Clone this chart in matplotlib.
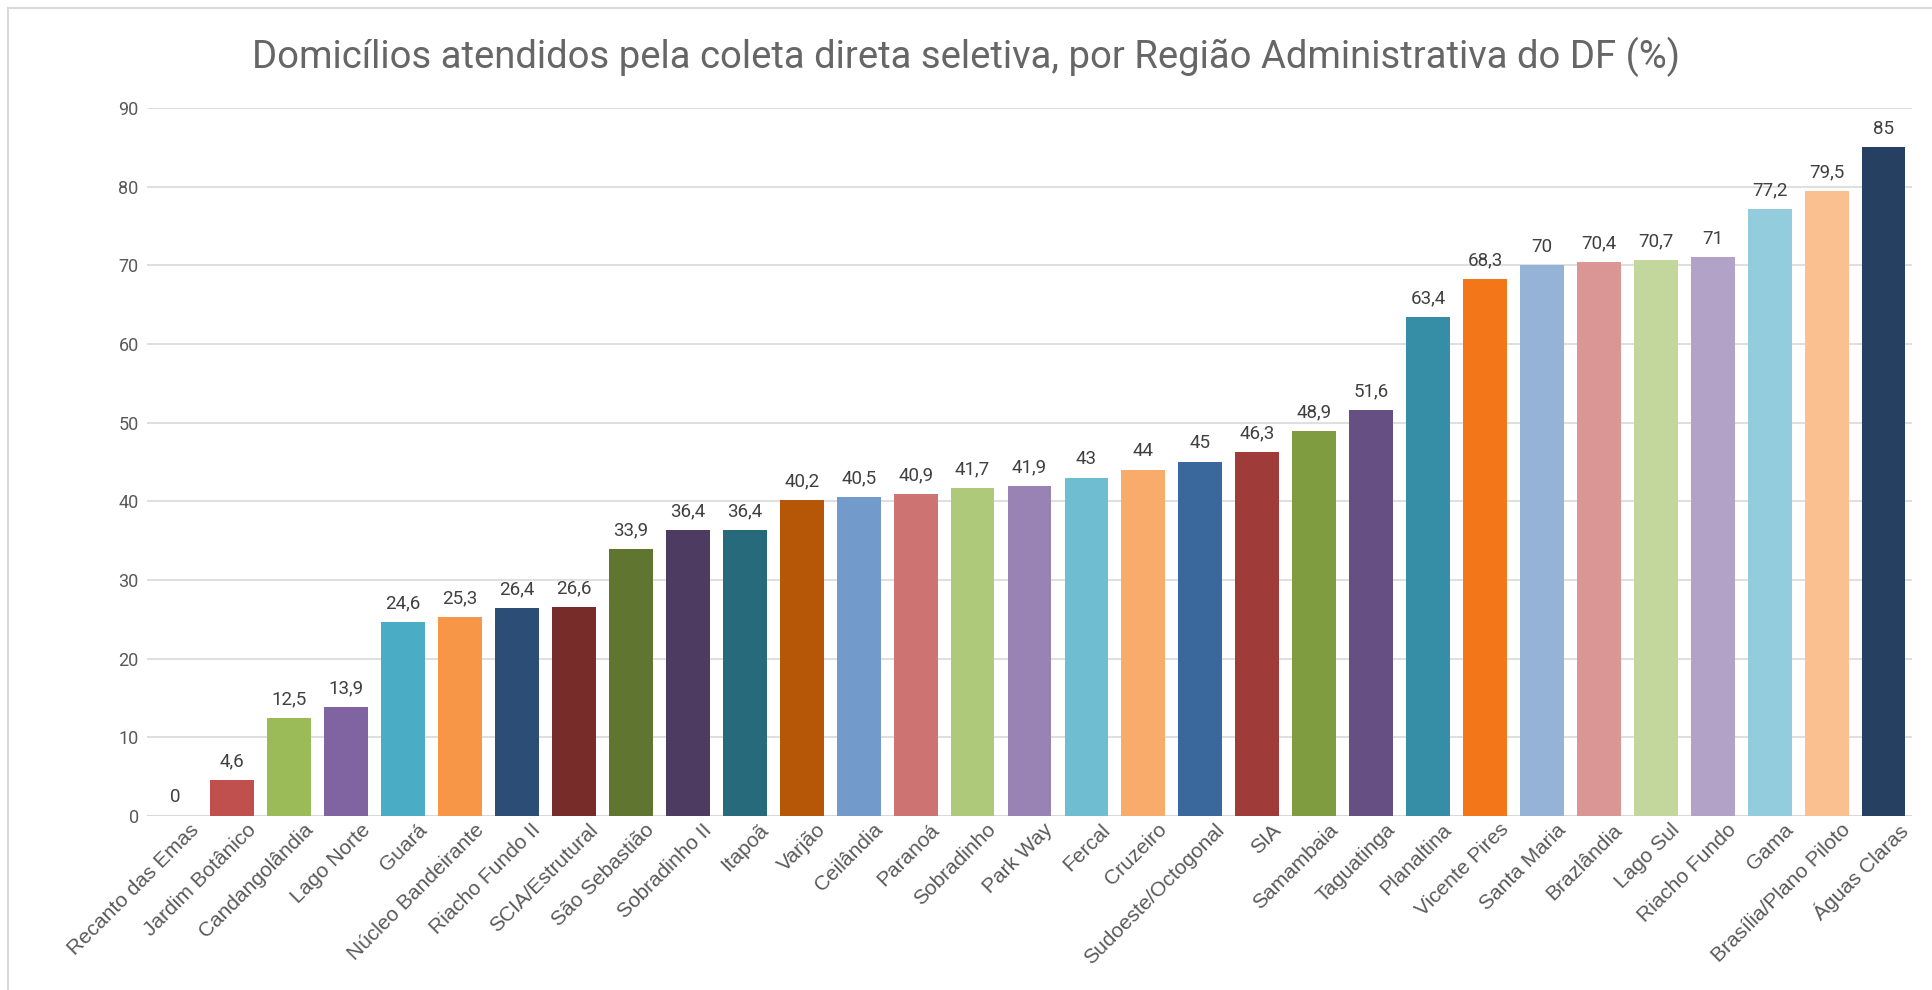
import matplotlib
matplotlib.use("Agg")
import matplotlib.pyplot as plt
import matplotlib.transforms as mtransforms
from matplotlib.lines import Line2D

# Regions ordered by share of households served by selective collection
regions = [
    "Recanto das Emas", "Jardim Botânico", "Candangolândia", "Lago Norte", "Guará",
    "Núcleo Bandeirante", "Riacho Fundo II", "SCIA/Estrutural", "São Sebastião",
    "Sobradinho II", "Itapoã", "Varjão", "Ceilândia", "Paranoá", "Sobradinho",
    "Park Way", "Fercal", "Cruzeiro", "Sudoeste/Octogonal", "SIA", "Samambaia",
    "Taguatinga", "Planaltina", "Vicente Pires", "Santa Maria", "Brazlândia",
    "Lago Sul", "Riacho Fundo", "Gama", "Brasília/Plano Piloto", "Águas Claras",
]
percent = [
    0, 4.6, 12.5, 13.9, 24.6, 25.3, 26.4, 26.6, 33.9, 36.4, 36.4, 40.2, 40.5,
    40.9, 41.7, 41.9, 43, 44, 45, 46.3, 48.9, 51.6, 63.4, 68.3, 70, 70.4, 70.7,
    71, 77.2, 79.5, 85,
]
yticks = [0, 10, 20, 30, 40, 50, 60, 70, 80, 90]

# Office-theme colour cycle with its shaded variations
bar_colors = [
    "#4F81BD", "#C0504D", "#9BBB59", "#8064A2", "#4BACC6", "#F79646",
    "#2C4D75", "#772C2A", "#5F7530", "#4D3B62", "#276A7C", "#B65708",
    "#729ACA", "#CD7371", "#AFC97A", "#9983B5", "#6FBDD1", "#F9AB6B",
    "#3A679C", "#9F3B38", "#7F9D40", "#664F82", "#358EA6", "#F37619",
    "#95B3D7", "#D99694", "#C3D69B", "#B3A2C7", "#93CDDD", "#FAC090",
    "#254061",
]

title = "Domicílios atendidos pela coleta direta seletiva, por Região Administrativa do DF (%)"

W, H = 1932, 990
fig = plt.figure(figsize=(W / 100, H / 100), dpi=100)
fig.patch.set_facecolor("white")

ax = fig.add_axes([147 / W, 1 - 816 / H, (1912 - 147) / W, (816 - 108) / H])
ax.set_facecolor("white")

x = list(range(len(regions)))
bars = ax.bar(x, percent, width=0.77, color=bar_colors, zorder=3)

ax.set_xlim(-0.5, len(regions) - 0.5)
ax.set_ylim(0, 90)
ax.set_yticks(yticks)
ax.set_yticklabels([str(t) for t in yticks], fontfamily="Roboto", fontsize=13,
                   color="#595959")
ax.tick_params(axis="y", length=0, pad=6)

ax.set_xticks(x)
ax.set_xticklabels(regions, rotation=45, ha="right", va="top",
                   rotation_mode="anchor", fontfamily="Liberation Sans",
                   fontsize=15, color="#595959")
ax.tick_params(axis="x", length=0, pad=3)
offset = mtransforms.ScaledTranslation(14 / 100, 0, fig.dpi_scale_trans)
for lbl in ax.get_xticklabels():
    lbl.set_transform(lbl.get_transform() + offset)

for s in ax.spines.values():
    s.set_visible(False)
ax.grid(axis="y", color="#D9D9D9", linewidth=1.2, zorder=0)
ax.set_axisbelow(True)
ax.axhline(0, color="#D9D9D9", linewidth=2.2, zorder=2)

labels = [f"{v:g}".replace(".", ",") for v in percent]
ax.bar_label(bars, labels=labels, padding=7, fontfamily="Roboto", fontsize=13.5,
             color="#404040")

fig.text(0.5, 1 - 68 / H, title, ha="center", va="baseline",
         fontfamily="Roboto", fontsize=27.5, color="#666666")

# Thin frame along the left and top edges
fig.add_artist(Line2D([8 / W, 8 / W], [0, 1 - 8 / H], transform=fig.transFigure,
                      color="#D9D9D9", linewidth=1.5))
fig.add_artist(Line2D([8 / W, 1], [1 - 8 / H, 1 - 8 / H], transform=fig.transFigure,
                      color="#D9D9D9", linewidth=1.5))

fig.savefig("out.png", dpi=100, facecolor="white")
